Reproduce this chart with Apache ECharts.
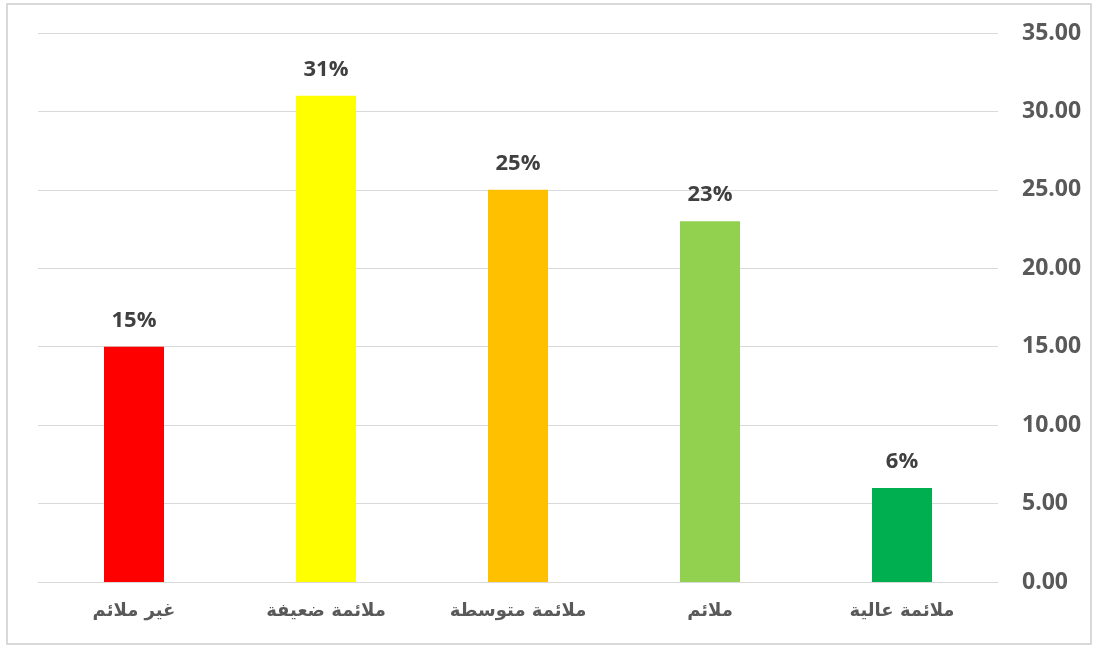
<!DOCTYPE html>
<html>
<head>
<meta charset="utf-8">
<script src="https://cdn.jsdelivr.net/npm/echarts@6/dist/echarts.min.js"></script>
<style>
  html,body{margin:0;padding:0;background:#fff;}
  #chart{width:1098px;height:648px;}
  #frame{position:absolute;left:6px;top:3px;width:1086px;height:642px;border:2px solid #d9d9d9;box-sizing:border-box;pointer-events:none;}
</style>
</head>
<body>
<div id="chart"></div>
<div id="frame"></div>
<script>
var categories=["غير ملائم","ملائمة ضعيفة","ملائمة متوسطة","ملائم","ملائمة عالية"];
var values=[15,31,25,23,6];
var colors=["#FF0000","#FFFF00","#FFC000","#92D050","#00B050"];
var yTicks=[0,5,10,15,20,25,30,35];

var chart=echarts.init(document.getElementById("chart"));
var arFont="'DejaVu Sans', 'Liberation Sans', Arial, sans-serif";
var numFont="'Open Sans', 'Liberation Sans', Arial, sans-serif";
chart.setOption({
  animation:false,
  grid:{left:38,right:100,top:33,bottom:66},
  xAxis:{
    type:'category',
    data:categories,
    axisTick:{show:false},
    axisLine:{lineStyle:{color:'#d9d9d9',width:1}},
    axisLabel:{color:'#595959',fontWeight:'bold',fontSize:18,margin:20,fontFamily:arFont}
  },
  yAxis:{
    type:'value',
    position:'right',
    min:yTicks[0],
    max:yTicks[yTicks.length-1],
    interval:5,
    axisLine:{show:false},
    axisTick:{show:false},
    splitLine:{lineStyle:{color:'#d9d9d9',width:1}},
    axisLabel:{color:'#595959',fontWeight:'bold',fontSize:23,margin:24,fontFamily:numFont,
      formatter:function(v){return v.toFixed(2);}}
  },
  series:[{
    type:'bar',
    barWidth:60,
    data:values.map(function(v,i){return {value:v,itemStyle:{color:colors[i]}};}),
    label:{show:true,position:'top',distance:15,color:'#404040',fontWeight:'bold',fontSize:22,
      fontFamily:numFont,
      formatter:function(p){return p.value+'%';}}
  }]
});
</script>
</body>
</html>
